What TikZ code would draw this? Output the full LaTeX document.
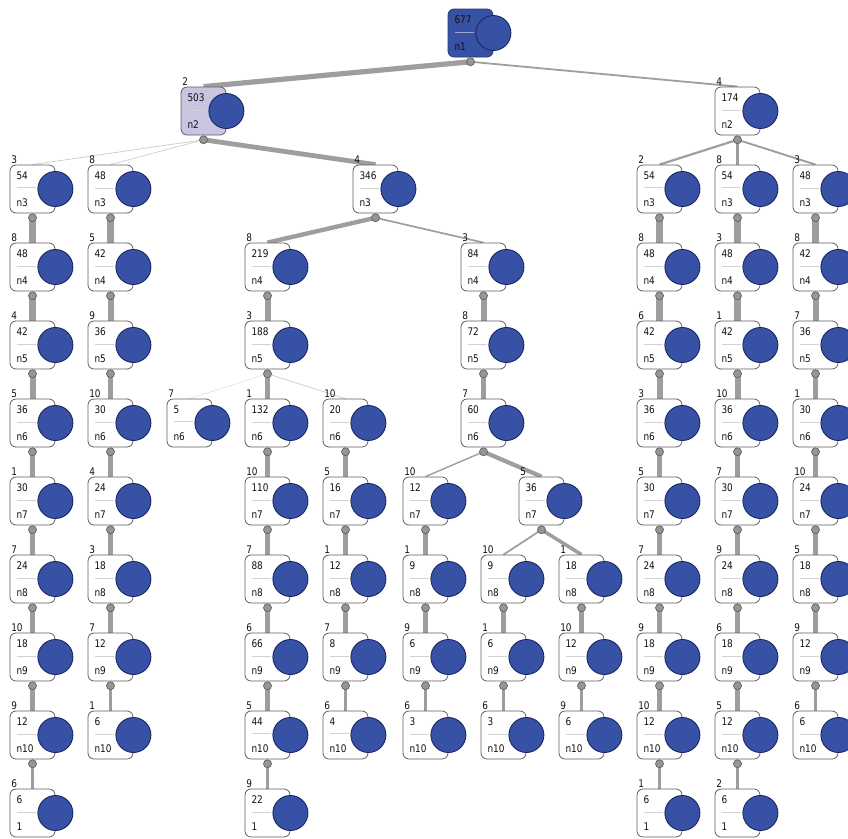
\documentclass[tikz,border=0pt]{standalone}
\usepackage{fontspec}
\usepackage{xcolor}
\usepackage{tikz}
\usetikzlibrary{shapes,backgrounds}

\newfontfamily\cardfamily[FakeStretch=0.85]{DejaVu Sans}
\newcommand{\cardfont}{\cardfamily\fontsize{10.5}{13.5}\selectfont}
\newcommand{\divider}{{\color{gray!35}\rule[4.5pt]{19pt}{0.8pt}}}

\definecolor{cardblue}{RGB}{55,82,164}
\definecolor{bubbleline}{RGB}{28,38,100}
\definecolor{rootline}{RGB}{40,55,125}
\definecolor{lavender}{RGB}{200,197,225}
\definecolor{cardline}{RGB}{95,95,95}
\definecolor{textdark}{RGB}{20,15,15}
\definecolor{linkgray}{RGB}{158,158,158}
\definecolor{knobgray}{RGB}{150,150,150}

\begin{document}
\begin{tikzpicture}[
    x=1pt, y=-1pt,
    card/.style={
        rectangle, draw=cardline, fill=white, rounded corners=6pt,
        line width=0.8pt, minimum width=45pt, minimum height=48pt,
        text width=32pt, align=left, inner xsep=6.5pt, inner ysep=0pt,
        font=\cardfont, text=textdark,
        label={[bubble,anchor=center]east:{}}
    },
    bubble/.style={
        circle, fill=cardblue, draw=bubbleline, line width=0.9pt,
        minimum size=35pt, inner sep=0pt
    },
    cnt/.style={label={[tagtext]north west:#1}},
    tagtext/.style={
        anchor=base west, inner sep=0pt, xshift=1.5pt, yshift=1pt,
        font=\cardfont, text=textdark
    },
    hub/.style={label={[knob,name=#1]south:{}}},
    knob/.style={
        circle, fill=knobgray, draw=cardline, line width=0.7pt,
        minimum size=8pt, inner sep=0pt
    },
    link/.style={draw=linkgray, line width=#1},
    faint/.style={draw=gray!40, line width=#1}
]
    \useasboundingbox (0,0) rectangle (848,838);

    % Root and first split
    \node [card, fill=cardblue, draw=rootline, hub=rootk] (root) at (470.5,33) {677\\{\color{lavender!70!cardblue}\rule[4.5pt]{19pt}{0.8pt}}\\n1};
    \node [card, fill=lavender, cnt=2, hub=p1k] (p1) at (203.5,111) {503\\\divider\\n2};
    \node [card, cnt=4, hub=t1k] (t1) at (737.5,111) {174\\\divider\\n2};

    % Row n3
    \node [card, cnt=3, hub=a2k] (a2) at (32.5,189) {54\\\divider\\n3};
    \node [card, cnt=8, hub=b2k] (b2) at (110.5,189) {48\\\divider\\n3};
    \node [card, cnt=4, hub=q2k] (q2) at (375.5,189) {346\\\divider\\n3};
    \node [card, cnt=2, hub=k2k] (k2) at (659.5,189) {54\\\divider\\n3};
    \node [card, cnt=8, hub=l2k] (l2) at (737.5,189) {54\\\divider\\n3};
    \node [card, cnt=3, hub=m2k] (m2) at (815.5,189) {48\\\divider\\n3};

    % Row n4
    \node [card, cnt=8, hub=a3k] (a3) at (32.5,267) {48\\\divider\\n4};
    \node [card, cnt=5, hub=b3k] (b3) at (110.5,267) {42\\\divider\\n4};
    \node [card, cnt=8, hub=d3k] (d3) at (267.5,267) {219\\\divider\\n4};
    \node [card, cnt=3, hub=g3k] (g3) at (483.5,267) {84\\\divider\\n4};
    \node [card, cnt=8, hub=k3k] (k3) at (659.5,267) {48\\\divider\\n4};
    \node [card, cnt=3, hub=l3k] (l3) at (737.5,267) {48\\\divider\\n4};
    \node [card, cnt=8, hub=m3k] (m3) at (815.5,267) {42\\\divider\\n4};

    % Row n5
    \node [card, cnt=4, hub=a4k] (a4) at (32.5,345) {42\\\divider\\n5};
    \node [card, cnt=9, hub=b4k] (b4) at (110.5,345) {36\\\divider\\n5};
    \node [card, cnt=3, hub=d4k] (d4) at (267.5,345) {188\\\divider\\n5};
    \node [card, cnt=8, hub=g4k] (g4) at (483.5,345) {72\\\divider\\n5};
    \node [card, cnt=6, hub=k4k] (k4) at (659.5,345) {42\\\divider\\n5};
    \node [card, cnt=1, hub=l4k] (l4) at (737.5,345) {42\\\divider\\n5};
    \node [card, cnt=7, hub=m4k] (m4) at (815.5,345) {36\\\divider\\n5};

    % Row n6
    \node [card, cnt=5, hub=a5k] (a5) at (32.5,423) {36\\\divider\\n6};
    \node [card, cnt=10, hub=b5k] (b5) at (110.5,423) {30\\\divider\\n6};
    \node [card, cnt=7] (c5) at (189.5,423) {5\\\divider\\n6};
    \node [card, cnt=1, hub=d5k] (d5) at (267.5,423) {132\\\divider\\n6};
    \node [card, cnt=10, hub=e5k] (e5) at (345.5,423) {20\\\divider\\n6};
    \node [card, cnt=7, hub=g5k] (g5) at (483.5,423) {60\\\divider\\n6};
    \node [card, cnt=3, hub=k5k] (k5) at (659.5,423) {36\\\divider\\n6};
    \node [card, cnt=10, hub=l5k] (l5) at (737.5,423) {36\\\divider\\n6};
    \node [card, cnt=1, hub=m5k] (m5) at (815.5,423) {30\\\divider\\n6};

    % Row n7
    \node [card, cnt=1, hub=a6k] (a6) at (32.5,501) {30\\\divider\\n7};
    \node [card, cnt=4, hub=b6k] (b6) at (110.5,501) {24\\\divider\\n7};
    \node [card, cnt=10, hub=d6k] (d6) at (267.5,501) {110\\\divider\\n7};
    \node [card, cnt=5, hub=e6k] (e6) at (345.5,501) {16\\\divider\\n7};
    \node [card, cnt=10, hub=f6k] (f6) at (425.5,501) {12\\\divider\\n7};
    \node [card, cnt=5, hub=i6k] (i6) at (541.5,501) {36\\\divider\\n7};
    \node [card, cnt=5, hub=k6k] (k6) at (659.5,501) {30\\\divider\\n7};
    \node [card, cnt=7, hub=l6k] (l6) at (737.5,501) {30\\\divider\\n7};
    \node [card, cnt=10, hub=m6k] (m6) at (815.5,501) {24\\\divider\\n7};

    % Row n8
    \node [card, cnt=7, hub=a7k] (a7) at (32.5,579) {24\\\divider\\n8};
    \node [card, cnt=3, hub=b7k] (b7) at (110.5,579) {18\\\divider\\n8};
    \node [card, cnt=7, hub=d7k] (d7) at (267.5,579) {88\\\divider\\n8};
    \node [card, cnt=1, hub=e7k] (e7) at (345.5,579) {12\\\divider\\n8};
    \node [card, cnt=1, hub=f7k] (f7) at (425.5,579) {9\\\divider\\n8};
    \node [card, cnt=10, hub=h7k] (h7) at (503.5,579) {9\\\divider\\n8};
    \node [card, cnt=1, hub=j7k] (j7) at (581.5,579) {18\\\divider\\n8};
    \node [card, cnt=7, hub=k7k] (k7) at (659.5,579) {24\\\divider\\n8};
    \node [card, cnt=9, hub=l7k] (l7) at (737.5,579) {24\\\divider\\n8};
    \node [card, cnt=5, hub=m7k] (m7) at (815.5,579) {18\\\divider\\n8};

    % Row n9
    \node [card, cnt=10, hub=a8k] (a8) at (32.5,657) {18\\\divider\\n9};
    \node [card, cnt=7, hub=b8k] (b8) at (110.5,657) {12\\\divider\\n9};
    \node [card, cnt=6, hub=d8k] (d8) at (267.5,657) {66\\\divider\\n9};
    \node [card, cnt=7, hub=e8k] (e8) at (345.5,657) {8\\\divider\\n9};
    \node [card, cnt=9, hub=f8k] (f8) at (425.5,657) {6\\\divider\\n9};
    \node [card, cnt=1, hub=h8k] (h8) at (503.5,657) {6\\\divider\\n9};
    \node [card, cnt=10, hub=j8k] (j8) at (581.5,657) {12\\\divider\\n9};
    \node [card, cnt=9, hub=k8k] (k8) at (659.5,657) {18\\\divider\\n9};
    \node [card, cnt=6, hub=l8k] (l8) at (737.5,657) {18\\\divider\\n9};
    \node [card, cnt=9, hub=m8k] (m8) at (815.5,657) {12\\\divider\\n9};

    % Row n10
    \node [card, cnt=9, hub=a9k] (a9) at (32.5,735) {12\\\divider\\n10};
    \node [card, cnt=1] (b9) at (110.5,735) {6\\\divider\\n10};
    \node [card, cnt=5, hub=d9k] (d9) at (267.5,735) {44\\\divider\\n10};
    \node [card, cnt=6] (e9) at (345.5,735) {4\\\divider\\n10};
    \node [card, cnt=6] (f9) at (425.5,735) {3\\\divider\\n10};
    \node [card, cnt=6] (h9) at (503.5,735) {3\\\divider\\n10};
    \node [card, cnt=9] (j9) at (581.5,735) {6\\\divider\\n10};
    \node [card, cnt=10, hub=k9k] (k9) at (659.5,735) {12\\\divider\\n10};
    \node [card, cnt=5, hub=l9k] (l9) at (737.5,735) {12\\\divider\\n10};
    \node [card, cnt=6] (m9) at (815.5,735) {6\\\divider\\n10};

    % Last row
    \node [card, cnt=6] (a10) at (32.5,813) {6\\\divider\\1};
    \node [card, cnt=9] (d10) at (267.5,813) {22\\\divider\\1};
    \node [card, cnt=1] (k10) at (659.5,813) {6\\\divider\\1};
    \node [card, cnt=2] (l10) at (737.5,813) {6\\\divider\\1};

    % Links
    \begin{scope}[on background layer]
        \draw [link=5.2] (rootk.center) -- (p1.north);
        \draw [link=1.8] (rootk.center) -- (t1.north);
        \draw [faint=0.75] (p1k.center) -- (a2.north);
        \draw [faint=0.7] (p1k.center) -- (b2.north);
        \draw [link=4.8] (p1k.center) -- (q2.north);
        \draw [link=2.2] (t1k.center) -- (k2.north);
        \draw [link=2.2] (t1k.center) -- (l2.north);
        \draw [link=1.9] (t1k.center) -- (m2.north);
        \draw [link=4.4] (q2k.center) -- (d3.north);
        \draw [link=1.7] (q2k.center) -- (g3.north);

        \draw [link=6.2] (a2k.center) -- (a3.north);
        \draw [link=6.1] (a3k.center) -- (a4.north);
        \draw [link=6] (a4k.center) -- (a5.north);
        \draw [link=5.8] (a5k.center) -- (a6.north);
        \draw [link=5.6] (a6k.center) -- (a7.north);
        \draw [link=5.25] (a7k.center) -- (a8.north);
        \draw [link=4.7] (a8k.center) -- (a9.north);
        \draw [link=3.5] (a9k.center) -- (a10.north);

        \draw [link=6.1] (b2k.center) -- (b3.north);
        \draw [link=6] (b3k.center) -- (b4.north);
        \draw [link=5.8] (b4k.center) -- (b5.north);
        \draw [link=5.6] (b5k.center) -- (b6.north);
        \draw [link=5.25] (b6k.center) -- (b7.north);
        \draw [link=4.7] (b7k.center) -- (b8.north);
        \draw [link=3.5] (b8k.center) -- (b9.north);

        \draw [link=6] (d3k.center) -- (d4.north);
        \draw [faint=0.3] (d4k.center) -- (c5.north);
        \draw [link=4.9] (d4k.center) -- (d5.north);
        \draw [faint=0.75] (d4k.center) -- (e5.north);
        \draw [link=5.8] (d5k.center) -- (d6.north);
        \draw [link=5.6] (d6k.center) -- (d7.north);
        \draw [link=5.25] (d7k.center) -- (d8.north);
        \draw [link=4.7] (d8k.center) -- (d9.north);
        \draw [link=3.5] (d9k.center) -- (d10.north);

        \draw [link=5.6] (e5k.center) -- (e6.north);
        \draw [link=5.25] (e6k.center) -- (e7.north);
        \draw [link=4.7] (e7k.center) -- (e8.north);
        \draw [link=3.5] (e8k.center) -- (e9.north);

        \draw [link=6] (g3k.center) -- (g4.north);
        \draw [link=5.8] (g4k.center) -- (g5.north);
        \draw [link=1.4] (g5k.center) -- (f6.north);
        \draw [link=4.2] (g5k.center) -- (i6.north);
        \draw [link=5.25] (f6k.center) -- (f7.north);
        \draw [link=4.7] (f7k.center) -- (f8.north);
        \draw [link=3.5] (f8k.center) -- (f9.north);
        \draw [link=1.75] (i6k.center) -- (h7.north);
        \draw [link=3.5] (i6k.center) -- (j7.north);
        \draw [link=4.7] (h7k.center) -- (h8.north);
        \draw [link=3.5] (h8k.center) -- (h9.north);
        \draw [link=4.7] (j7k.center) -- (j8.north);
        \draw [link=3.5] (j8k.center) -- (j9.north);

        \draw [link=6.2] (k2k.center) -- (k3.north);
        \draw [link=6.1] (k3k.center) -- (k4.north);
        \draw [link=6] (k4k.center) -- (k5.north);
        \draw [link=5.8] (k5k.center) -- (k6.north);
        \draw [link=5.6] (k6k.center) -- (k7.north);
        \draw [link=5.25] (k7k.center) -- (k8.north);
        \draw [link=4.7] (k8k.center) -- (k9.north);
        \draw [link=3.5] (k9k.center) -- (k10.north);

        \draw [link=6.2] (l2k.center) -- (l3.north);
        \draw [link=6.1] (l3k.center) -- (l4.north);
        \draw [link=6] (l4k.center) -- (l5.north);
        \draw [link=5.8] (l5k.center) -- (l6.north);
        \draw [link=5.6] (l6k.center) -- (l7.north);
        \draw [link=5.25] (l7k.center) -- (l8.north);
        \draw [link=4.7] (l8k.center) -- (l9.north);
        \draw [link=3.5] (l9k.center) -- (l10.north);

        \draw [link=6.1] (m2k.center) -- (m3.north);
        \draw [link=6] (m3k.center) -- (m4.north);
        \draw [link=5.8] (m4k.center) -- (m5.north);
        \draw [link=5.6] (m5k.center) -- (m6.north);
        \draw [link=5.25] (m6k.center) -- (m7.north);
        \draw [link=4.7] (m7k.center) -- (m8.north);
        \draw [link=3.5] (m8k.center) -- (m9.north);
    \end{scope}

\end{tikzpicture}
\end{document}
